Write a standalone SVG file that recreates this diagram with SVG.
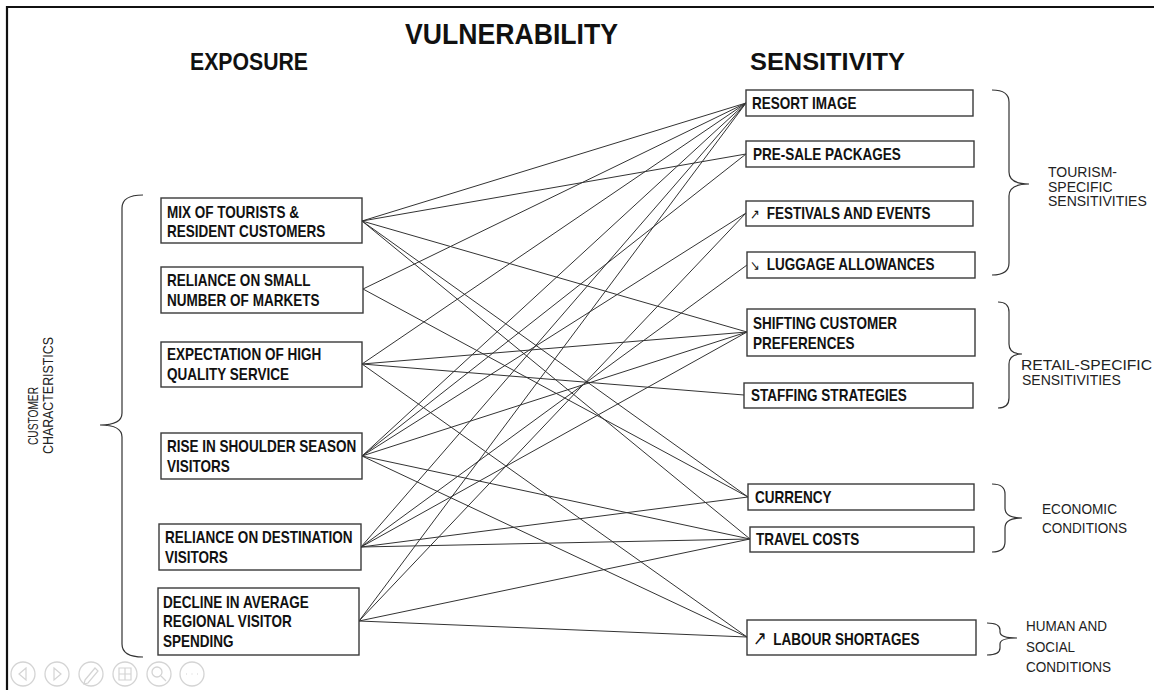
<svg xmlns="http://www.w3.org/2000/svg" width="1154" height="690" viewBox="0 0 1154 690">
<style>
.box{fill:#fff;stroke:#3a3a3a;stroke-width:1.4}
.bt{font-family:"Liberation Sans","DejaVu Sans",sans-serif;font-weight:bold;font-size:16.5px;fill:#111}
.arr{font-family:"DejaVu Sans","Liberation Sans",sans-serif;font-weight:normal}
.hd{font-family:"Liberation Sans",sans-serif;font-weight:bold;fill:#111}
.lb{font-family:"Liberation Sans",sans-serif;font-size:14px;fill:#222}
.brace{fill:none;stroke:#333;stroke-width:1.2}
.con line{stroke:#333;stroke-width:1}
.ctl circle{fill:none;stroke:#d4d4d4;stroke-width:1.3}
.ctl path{fill:none;stroke:#d4d4d4;stroke-width:1.2}
</style>
<rect width="1154" height="690" fill="#fff"/>
<path d="M7,690 V7 H1154" fill="none" stroke="#111" stroke-width="2.2"/>

<text class="hd" x="405" y="44" font-size="30" textLength="213" lengthAdjust="spacingAndGlyphs">VULNERABILITY</text>
<text class="hd" x="190" y="70" font-size="23.5" textLength="118" lengthAdjust="spacingAndGlyphs">EXPOSURE</text>
<text class="hd" x="750" y="70" font-size="23.5" textLength="155" lengthAdjust="spacingAndGlyphs">SENSITIVITY</text>

<g id="connectors" class="con">
<line x1="362" y1="221" x2="746" y2="103"/>
<line x1="362" y1="221" x2="746" y2="154"/>
<line x1="362" y1="221" x2="747" y2="332"/>
<line x1="362" y1="221" x2="748" y2="497"/>
<line x1="362" y1="221" x2="750" y2="539"/>
<line x1="363" y1="289" x2="746" y2="103"/>
<line x1="363" y1="289" x2="748" y2="497"/>
<line x1="362" y1="364" x2="746" y2="103"/>
<line x1="362" y1="364" x2="747" y2="332"/>
<line x1="362" y1="364" x2="744" y2="395"/>
<line x1="362" y1="364" x2="747" y2="637"/>
<line x1="362" y1="456" x2="746" y2="103"/>
<line x1="362" y1="456" x2="746" y2="154"/>
<line x1="362" y1="456" x2="746" y2="213"/>
<line x1="362" y1="456" x2="747" y2="332"/>
<line x1="362" y1="456" x2="750" y2="539"/>
<line x1="362" y1="456" x2="747" y2="637"/>
<line x1="361" y1="547" x2="746" y2="103"/>
<line x1="361" y1="547" x2="747" y2="265"/>
<line x1="361" y1="547" x2="747" y2="332"/>
<line x1="361" y1="547" x2="748" y2="497"/>
<line x1="361" y1="547" x2="750" y2="539"/>
<line x1="359" y1="621" x2="746" y2="103"/>
<line x1="359" y1="621" x2="746" y2="213"/>
<line x1="359" y1="621" x2="750" y2="539"/>
<line x1="359" y1="621" x2="747" y2="637"/>
</g>

<g id="exp-mix">
<rect class="box" x="161" y="198" width="201" height="45"/>
<text class="bt" transform="translate(167 218) scale(0.82 1)"><tspan x="0" y="0">MIX OF TOURISTS &amp;</tspan><tspan x="0" y="19">RESIDENT CUSTOMERS</tspan></text>
</g>
<g id="exp-markets">
<rect class="box" x="161" y="267" width="202" height="46"/>
<text class="bt" transform="translate(167 286) scale(0.82 1)"><tspan x="0" y="0">RELIANCE ON SMALL</tspan><tspan x="0" y="20">NUMBER OF MARKETS</tspan></text>
</g>
<g id="exp-quality">
<rect class="box" x="161" y="342" width="201" height="45"/>
<text class="bt" transform="translate(167 360) scale(0.82 1)"><tspan x="0" y="0">EXPECTATION OF HIGH</tspan><tspan x="0" y="20">QUALITY SERVICE</tspan></text>
</g>
<g id="exp-shoulder">
<rect class="box" x="161" y="433" width="201" height="46"/>
<text class="bt" transform="translate(167 452) scale(0.82 1)"><tspan x="0" y="0">RISE IN SHOULDER SEASON</tspan><tspan x="0" y="20">VISITORS</tspan></text>
</g>
<g id="exp-destination">
<rect class="box" x="159" y="524" width="202" height="46"/>
<text class="bt" transform="translate(165 543) scale(0.82 1)"><tspan x="0" y="0">RELIANCE ON DESTINATION</tspan><tspan x="0" y="20">VISITORS</tspan></text>
</g>
<g id="exp-spending">
<rect class="box" x="158" y="588" width="201" height="67"/>
<text class="bt" transform="translate(163 608) scale(0.82 1)"><tspan x="0" y="0">DECLINE IN AVERAGE</tspan><tspan x="0" y="19.5">REGIONAL VISITOR</tspan><tspan x="0" y="39">SPENDING</tspan></text>
</g>

<g id="sen-resort">
<rect class="box" x="746" y="90" width="227" height="26"/>
<text class="bt" transform="translate(752 108.5) scale(0.82 1)">RESORT IMAGE</text>
</g>
<g id="sen-presale">
<rect class="box" x="746" y="141" width="228" height="26"/>
<text class="bt" transform="translate(753 160) scale(0.82 1)">PRE-SALE PACKAGES</text>
</g>
<g id="sen-festivals">
<rect class="box" x="746" y="201" width="227" height="25"/>
<text class="bt" transform="translate(750 218.5) scale(0.82 1)"><tspan class="arr" x="0" font-size="14">↗</tspan><tspan x="20.4">FESTIVALS AND EVENTS</tspan></text>
</g>
<g id="sen-luggage">
<rect class="box" x="747" y="252" width="228" height="26"/>
<text class="bt" transform="translate(750 270) scale(0.82 1)"><tspan class="arr" x="0" font-size="14">↘</tspan><tspan x="20.4">LUGGAGE ALLOWANCES</tspan></text>
</g>
<g id="sen-shifting">
<rect class="box" x="747" y="309" width="228" height="47"/>
<text class="bt" transform="translate(753 329) scale(0.82 1)"><tspan x="0" y="0">SHIFTING CUSTOMER</tspan><tspan x="0" y="20">PREFERENCES</tspan></text>
</g>
<g id="sen-staffing">
<rect class="box" x="744" y="383" width="229" height="25"/>
<text class="bt" transform="translate(751 401) scale(0.82 1)">STAFFING STRATEGIES</text>
</g>
<g id="sen-currency">
<rect class="box" x="748" y="484" width="226" height="26"/>
<text class="bt" transform="translate(755 502.5) scale(0.82 1)">CURRENCY</text>
</g>
<g id="sen-travel">
<rect class="box" x="750" y="527" width="224" height="25"/>
<text class="bt" transform="translate(756 545) scale(0.82 1)">TRAVEL COSTS</text>
</g>
<g id="sen-labour">
<rect class="box" x="747" y="620" width="229" height="35"/>
<text class="bt" transform="translate(753 645) scale(0.82 1)"><tspan class="arr" x="0" font-size="20">↗</tspan><tspan x="24.8">LABOUR SHORTAGES</tspan></text>
</g>

<g id="grp-customer">
<path class="brace" d="M143,195 Q122,195 122,208 V413 Q122,425 100,425 Q122,425 122,437 V644 Q122,657 143,657"/>
<text class="lb" font-size="15" transform="translate(38 445) rotate(-90)" textLength="58" lengthAdjust="spacingAndGlyphs">CUSTOMER</text>
<text class="lb" font-size="15" transform="translate(53 454) rotate(-90)" textLength="117" lengthAdjust="spacingAndGlyphs">CHARACTERISTICS</text>
</g>
<g id="grp-tourism">
<path class="brace" d="M992,90 Q1009,90 1009,102 V172 Q1009,184 1029,184 Q1009,184 1009,196 V263 Q1009,275 992,275"/>
<text class="lb" x="1048" y="176.5">TOURISM-</text>
<text class="lb" x="1048" y="191.5">SPECIFIC</text>
<text class="lb" x="1048" y="206">SENSITIVITIES</text>
</g>
<g id="grp-retail">
<path class="brace" d="M998,302 Q1009,302 1009,312 V344 Q1009,354 1022,354 Q1009,354 1009,364 V398 Q1009,408 998,408"/>
<text class="lb" x="1021" y="370" textLength="131" lengthAdjust="spacingAndGlyphs">RETAIL-SPECIFIC</text>
<text class="lb" x="1022" y="384.5">SENSITIVITIES</text>
</g>
<g id="grp-economic">
<path class="brace" d="M992,484 Q1005,484 1005,494 V508 Q1005,518 1022,518 Q1005,518 1005,528 V542 Q1005,552 992,552"/>
<text class="lb" font-size="15.5" x="1042" y="514" textLength="75" lengthAdjust="spacingAndGlyphs">ECONOMIC</text>
<text class="lb" font-size="15.5" x="1042" y="533" textLength="85" lengthAdjust="spacingAndGlyphs">CONDITIONS</text>
</g>
<g id="grp-human">
<path class="brace" d="M987,623 Q1000,623 1000,630 V632 Q1000,638 1017,638 Q1000,638 1000,644 V648 Q1000,655 987,655"/>
<text class="lb" font-size="15.5" x="1026" y="631" textLength="81" lengthAdjust="spacingAndGlyphs">HUMAN AND</text>
<text class="lb" font-size="15.5" x="1026" y="651.5" textLength="49" lengthAdjust="spacingAndGlyphs">SOCIAL</text>
<text class="lb" font-size="15.5" x="1026" y="671.5" textLength="85" lengthAdjust="spacingAndGlyphs">CONDITIONS</text>
</g>

<g class="ctl">
<circle cx="23" cy="674" r="12"/><path d="M26,668 L19,674 L26,680 Z"/>
<circle cx="57" cy="674" r="12"/><path d="M54,668 L61,674 L54,680 Z"/>
<circle cx="91" cy="674" r="12"/><path d="M85,680 L95,668 L98,671 L88,683 L84,684 Z"/>
<circle cx="125" cy="674" r="12"/><path d="M119,668 H131 V680 H119 Z M119,674 H131 M125,668 V680"/>
<circle cx="159" cy="674" r="12"/><circle cx="157" cy="672" r="5"/><path d="M161,676 L166,681"/>
<circle cx="192" cy="674" r="12"/><path d="M186,674 h1 M191.5,674 h1 M197,674 h1"/>
</g>
</svg>
